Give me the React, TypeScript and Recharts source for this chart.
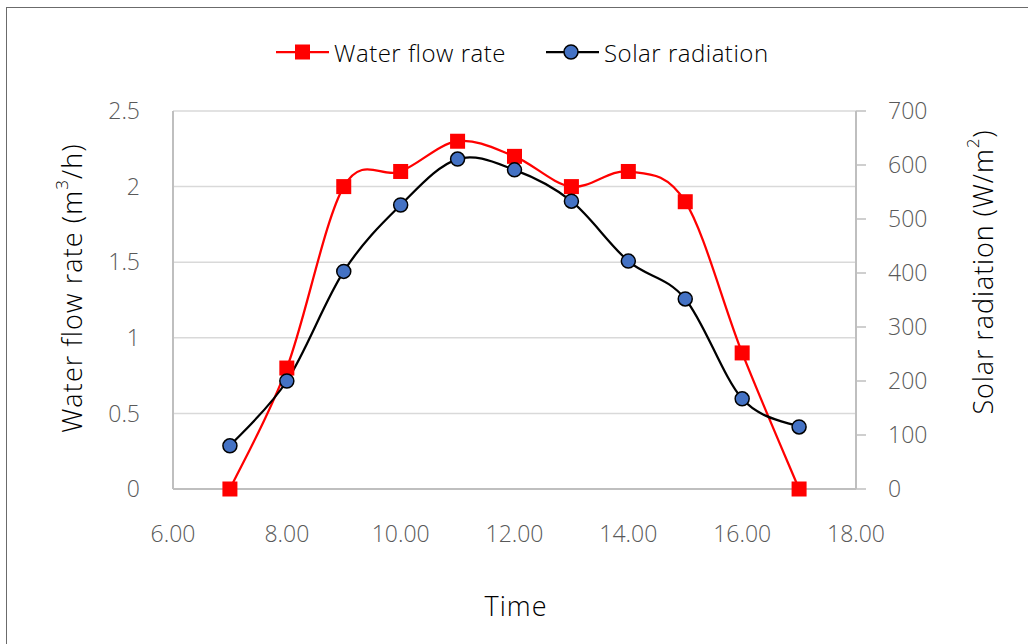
import React from 'react';
import { ComposedChart, Line, XAxis, YAxis, CartesianGrid, Label } from 'recharts';

const hours = [7, 8, 9, 10, 11, 12, 13, 14, 15, 16, 17];
const waterFlow = [0, 0.8, 2.0, 2.1, 2.3, 2.2, 2.0, 2.1, 1.9, 0.9, 0];
const solarRadiation = [80, 200, 403, 526, 611, 591, 533, 422, 352, 167, 115];
const xTicks = [6, 8, 10, 12, 14, 16, 18];
const leftTicks = [0, 0.5, 1, 1.5, 2, 2.5];
const rightTicks = [0, 100, 200, 300, 400, 500, 600, 700];

const data = hours.map((h, i) => ({ time: h, water: waterFlow[i], solar: solarRadiation[i] }));

const FONT = '"Open Sans", sans-serif';
const TICK_COLOR = '#595959';
const AXIS_COLOR = '#bfbfbf';

// Excel-like smoothed line (Catmull-Rom with tension 1/6)
const excelCurve: any = (context: any) => {
  let pts: number[][] = [];
  return {
    areaStart() {},
    areaEnd() {},
    lineStart() { pts = []; },
    point(x: number, y: number) { pts.push([+x, +y]); },
    lineEnd() {
      if (!pts.length) return;
      context.moveTo(pts[0][0], pts[0][1]);
      for (let i = 0; i < pts.length - 1; i++) {
        const p0 = pts[i - 1] || pts[i];
        const p1 = pts[i];
        const p2 = pts[i + 1];
        const p3 = pts[i + 2] || pts[i + 1];
        const c1x = p1[0] + (p2[0] - p0[0]) / 6;
        const c1y = p1[1] + (p2[1] - p0[1]) / 6;
        const c2x = p2[0] - (p3[0] - p1[0]) / 6;
        const c2y = p2[1] - (p3[1] - p1[1]) / 6;
        context.bezierCurveTo(c1x, c1y, c2x, c2y, p2[0], p2[1]);
      }
    },
  };
};

const SquareDot = (props: any) => {
  const { cx, cy } = props;
  if (cx == null || cy == null) return null;
  return <rect x={cx - 7.5} y={cy - 7.5} width={15} height={15} fill="#ff0000" />;
};

const CircleDot = (props: any) => {
  const { cx, cy } = props;
  if (cx == null || cy == null) return null;
  return <circle cx={cx} cy={cy} r={7} fill="#4472c4" stroke="#000" strokeWidth={1.5} />;
};

const LeftTitle = (props: any) => {
  const vb = props.viewBox || { x: 0 };
  const cx = vb.x + 71;
  const cy = 288;
  return (
    <text x={cx} y={cy} transform={`rotate(-90 ${cx} ${cy})`} textAnchor="middle" dominantBaseline="central"
      fontFamily={FONT} fontSize={27} fontWeight={300} fill="#000" letterSpacing={1.1}>
      <tspan>Water flow rate (m</tspan>
      <tspan fontSize={17} dy={-10}>3</tspan>
      <tspan dy={10}>/h)</tspan>
    </text>
  );
};

const RightTitle = (props: any) => {
  const cx = 982;
  const cy = 272;
  return (
    <text x={cx} y={cy} transform={`rotate(-90 ${cx} ${cy})`} textAnchor="middle" dominantBaseline="central"
      fontFamily={FONT} fontSize={27} fontWeight={300} fill="#000" letterSpacing={0.9}>
      <tspan>Solar radiation (W/m</tspan>
      <tspan fontSize={17} dy={-10}>2</tspan>
      <tspan dy={10}>)</tspan>
    </text>
  );
};

const BottomTitle = (props: any) => {
  return (
    <text x={516} y={605} textAnchor="middle" dominantBaseline="central" fontFamily={FONT} fontSize={27} fontWeight={300} fill="#000" letterSpacing={1}>
      Time
    </text>
  );
};

export default function App() {
  return (
    <div style={{ position: 'absolute', left: 0, top: 0, width: 1028, height: 644, background: '#fff', overflow: 'hidden' }}>
      <div style={{ position: 'absolute', left: 6, top: 7, width: 1100, height: 700, border: '1px solid #6b6b6b', boxSizing: 'border-box' }} />
      <div style={{ position: 'absolute', left: 0, top: 0 }}>
        <ComposedChart width={1028} height={644} data={data} margin={{ top: 111, right: 0, bottom: 0, left: 0 }}>
          <CartesianGrid horizontal={true} vertical={false} stroke="#d9d9d9" strokeWidth={1.5} yAxisId="left" />
          <XAxis dataKey="time" type="number" domain={[6, 18]} ticks={xTicks} tickFormatter={(v: number) => v.toFixed(2)}
            height={155} tickLine={false} tickSize={0} tickMargin={37}
            axisLine={{ stroke: AXIS_COLOR, strokeWidth: 2 }}
            tick={{ fill: TICK_COLOR, fontSize: 23, fontFamily: FONT, fontWeight: 300 }} interval={0}>
            <Label content={BottomTitle} />
          </XAxis>
          <YAxis yAxisId="left" orientation="left" domain={[0, 2.5]} ticks={leftTicks} width={173}
            tickLine={false} tickSize={0} tickMargin={33} axisLine={{ stroke: AXIS_COLOR, strokeWidth: 2 }}
            tick={{ fill: TICK_COLOR, fontSize: 23, fontFamily: FONT, fontWeight: 300 }} interval={0}>
            <Label content={LeftTitle} />
          </YAxis>
          <YAxis yAxisId="right" orientation="right" domain={[0, 700]} ticks={rightTicks} width={172}
            tickLine={{ stroke: AXIS_COLOR, strokeWidth: 1.5 }} tickSize={10} tickMargin={22}
            axisLine={{ stroke: AXIS_COLOR, strokeWidth: 2 }}
            tick={{ fill: TICK_COLOR, fontSize: 23, fontFamily: FONT, fontWeight: 300, textAnchor: 'start' }} interval={0}>
            <Label content={RightTitle} />
          </YAxis>
          <Line yAxisId="left" dataKey="water" type={excelCurve} stroke="#ff0000" strokeWidth={2.25}
            dot={<SquareDot />} activeDot={false} isAnimationActive={false} />
          <Line yAxisId="right" dataKey="solar" type={excelCurve} stroke="#000" strokeWidth={2.25}
            dot={<CircleDot />} activeDot={false} isAnimationActive={false} />
        </ComposedChart>
      </div>
      <svg style={{ position: 'absolute', left: 0, top: 0 }} width={1028} height={100}>
        <line x1={276} x2={329} y1={52} y2={52} stroke="#ff0000" strokeWidth={2.25} />
        <rect x={295} y={44.5} width={15} height={15} fill="#ff0000" />
        <text x={334} y={52} dominantBaseline="central" fontFamily={FONT} fontSize={24} fontWeight={300} fill="#000" letterSpacing={0.5}>Water flow rate</text>
        <line x1={546} x2={599} y1={52} y2={52} stroke="#000" strokeWidth={2.25} />
        <circle cx={571} cy={52} r={7} fill="#4472c4" stroke="#000" strokeWidth={1.5} />
        <text x={604} y={52} dominantBaseline="central" fontFamily={FONT} fontSize={24} fontWeight={300} fill="#000" letterSpacing={0.5}>Solar radiation</text>
      </svg>
    </div>
  );
}
